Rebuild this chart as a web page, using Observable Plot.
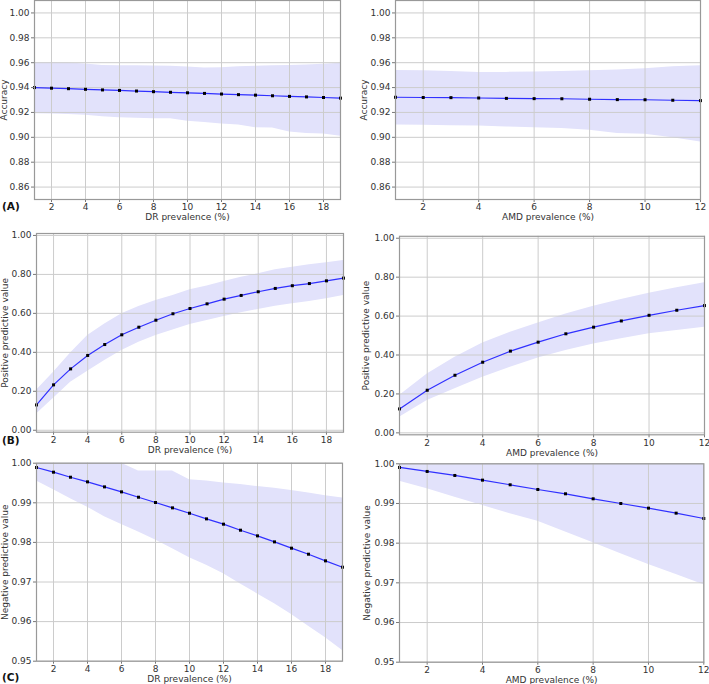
<!DOCTYPE html>
<html><head><meta charset="utf-8">
<script src="https://cdn.jsdelivr.net/npm/d3@7"></script>
<script src="https://cdn.jsdelivr.net/npm/@observablehq/plot@0.6"></script>
<style>
body{margin:0;background:#fff;}
#fig{position:relative;width:709px;height:684px;overflow:hidden;font-family:"DejaVu Sans",sans-serif;}
#fig svg{position:absolute;overflow:visible;}
.letter{position:absolute;font-family:"DejaVu Sans",sans-serif;font-weight:bold;font-size:10.5px;line-height:1;color:#111;}
</style></head><body><div id="fig"></div>
<script>
// ---- data ----
const drX = [1,2,3,4,5,6,7,8,9,10,11,12,13,14,15,16,17,18,19];
const amdX = [1,2,3,4,5,6,7,8,9,10,11,12];

const drAcc   = [0.9400,0.9395,0.9391,0.9386,0.9381,0.9377,0.9372,0.9367,0.9362,0.9358,0.9353,0.9348,0.9343,0.9339,0.9334,0.9329,0.9325,0.9320,0.9315];
const drAccHi = [0.9600,0.9600,0.9598,0.9590,0.9577,0.9576,0.9575,0.9573,0.9571,0.9565,0.9558,0.9560,0.9568,0.9572,0.9575,0.9578,0.9582,0.9588,0.9595];
const drAccLo = [0.9189,0.9187,0.9183,0.9178,0.9165,0.9157,0.9153,0.9150,0.9150,0.9130,0.9120,0.9107,0.9100,0.9077,0.9075,0.9043,0.9030,0.9027,0.9008];

const amdAcc   = [0.9322,0.9320,0.9319,0.9316,0.9313,0.9311,0.9310,0.9306,0.9303,0.9302,0.9298,0.9295];
const amdAccHi = [0.9537,0.9535,0.9530,0.9522,0.9522,0.9525,0.9530,0.9535,0.9542,0.9552,0.9568,0.9575];
const amdAccLo = [0.9099,0.9096,0.9093,0.9090,0.9083,0.9077,0.9070,0.9056,0.9030,0.9024,0.8997,0.8963];

const drPpv   = [0.130,0.233,0.315,0.384,0.440,0.490,0.529,0.565,0.598,0.625,0.649,0.673,0.692,0.711,0.728,0.742,0.753,0.767,0.781];
const drPpvHi = [0.205,0.298,0.397,0.486,0.546,0.598,0.635,0.666,0.692,0.721,0.740,0.764,0.786,0.803,0.824,0.837,0.849,0.860,0.872];
const drPpvLo = [0.084,0.164,0.247,0.303,0.358,0.409,0.452,0.486,0.515,0.543,0.563,0.584,0.603,0.620,0.637,0.649,0.661,0.675,0.692];

const amdPpv   = [0.123,0.219,0.296,0.363,0.420,0.466,0.509,0.543,0.575,0.604,0.630,0.654];
const amdPpvHi = [0.192,0.303,0.389,0.462,0.517,0.565,0.611,0.651,0.685,0.717,0.745,0.771];
const amdPpvLo = [0.080,0.166,0.226,0.286,0.337,0.385,0.423,0.457,0.483,0.509,0.526,0.543];

const drNpv   = [0.99891,0.99773,0.99646,0.99529,0.99402,0.99276,0.99141,0.99007,0.98872,0.98737,0.98594,0.98460,0.98308,0.98165,0.98013,0.97854,0.97702,0.97534,0.97374];
const drNpvHi = [1.0000,1.0000,1.0000,1.0000,1.0000,1.0000,0.9980,0.9980,0.9980,0.9958,0.9955,0.9950,0.9946,0.9941,0.9937,0.9931,0.9925,0.9918,0.9912];
const drNpvLo = [0.9955,0.9933,0.9910,0.9889,0.9865,0.9845,0.9826,0.9806,0.9784,0.9761,0.9742,0.9721,0.9695,0.9670,0.9645,0.9618,0.9588,0.9559,0.9527];

const amdNpv   = [0.99908,0.99807,0.99706,0.99588,0.99471,0.99353,0.99244,0.99118,0.99000,0.98882,0.98756,0.98622];
const amdNpvHi = [1.0,1.0,1.0,1.0,1.0,1.0,1.0,1.0,1.0,1.0,1.0,1.0];
const amdNpvLo = [0.99563,0.9937,0.9916,0.9895,0.9874,0.9855,0.9828,0.9801,0.9773,0.9746,0.9721,0.9695];

const drTicks = [2,4,6,8,10,12,14,16,18];
const amdTicks = [2,4,6,8,10,12];
const accTicks = [0.86,0.88,0.90,0.92,0.94,0.96,0.98,1.00];
const ppvTicks = [0.0,0.2,0.4,0.6,0.8,1.0];
const npvTicks = [0.95,0.96,0.97,0.98,0.99,1.00];

const xLabelDR = "DR prevalence (%)";
const xLabelAMD = "AMD prevalence (%)";
const yLabels = ["Accuracy","Positive predictive value","Negative predictive value"];
const panelLetters = ["(A)","(B)","(C)"];

// ---- layout ----
const fig = document.getElementById("fig");
function panel(p){
  const rows = p.x.map((x,i)=>({x, y:p.y[i], lo:p.lo[i], hi:p.hi[i]}));
  const ml = p.frame[0]-p.cell[0], mt = p.frame[1]-p.cell[1], mr = p.cell[2]-p.frame[2], mb = p.cell[3]-p.frame[3];
  const svg = Plot.plot({
    width: p.cell[2]-p.cell[0], height: p.cell[3]-p.cell[1],
    marginLeft: ml, marginTop: mt, marginRight: mr, marginBottom: mb,
    style:{fontFamily:"DejaVu Sans", fontSize:"9px", color:"#333", background:"transparent", overflow:"visible"},
    x:{domain:p.xDomain}, y:{domain:p.yDomain},
    marks:[
      Plot.areaY(rows,{x:"x",y1:"lo",y2:"hi",fill:"#e2e2fb"}),
      Plot.gridX(p.xTicks,{stroke:"#cccccc",strokeOpacity:1}),
      Plot.gridY(p.yTicks,{stroke:"#cccccc",strokeOpacity:1}),
      Plot.line(rows,{x:"x",y:"y",stroke:"#3030ff",strokeWidth:1.2}),
      Plot.dot(rows,{x:"x",y:"y",symbol:"square",r:1.7,fill:"#000"}),
      Plot.axisX(p.xTicks,{tickSize:3,tickPadding:1.5,label:null,stroke:"#777",fill:"#333"}),
      Plot.axisY(p.yTicks,{tickSize:3,tickPadding:2,tickFormat:d3.format(".2f"),label:null,stroke:"#777",fill:"#333"}),
      Plot.frame({stroke:"#999",strokeWidth:1.2}),
      Plot.text([p.xLabel],{frameAnchor:"bottom",lineAnchor:"middle",textAnchor:"middle",dy:18,text:d=>d,fontSize:9,fill:"#333"}),
      Plot.text([p.yLabel],{frameAnchor:"left",lineAnchor:"middle",textAnchor:"middle",dx:p.yDx,rotate:-90,text:d=>d,fontSize:9,fill:"#333"})
    ]
  });
  svg.style.left = p.cell[0]+"px"; svg.style.top = p.cell[1]+"px";
  fig.appendChild(svg);
}

panel({x:drX,y:drAcc,lo:drAccLo,hi:drAccHi,cell:[0,-5,355,226],frame:[34,0,340,199],xDomain:[1,19],yDomain:[0.85,1.01],xTicks:drTicks,yTicks:accTicks,xLabel:xLabelDR,yLabel:yLabels[0],yDx:-30});
panel({x:amdX,y:amdAcc,lo:amdAccLo,hi:amdAccHi,cell:[355,-5,709,226],frame:[395,0,700,199],xDomain:[1,12],yDomain:[0.85,1.01],xTicks:amdTicks,yTicks:accTicks,xLabel:xLabelAMD,yLabel:yLabels[0],yDx:-31});
panel({x:drX,y:drPpv,lo:drPpvLo,hi:drPpvHi,cell:[0,226,355,456],frame:[36,233,343,431.7],xDomain:[1,19],yDomain:[-0.01,1.01],xTicks:drTicks,yTicks:ppvTicks,xLabel:xLabelDR,yLabel:yLabels[1],yDx:-31});
panel({x:amdX,y:amdPpv,lo:amdPpvLo,hi:amdPpvHi,cell:[355,226,709,456],frame:[399,235.8,704,434.3],xDomain:[1,12],yDomain:[-0.01,1.01],xTicks:amdTicks,yTicks:ppvTicks,xLabel:xLabelAMD,yLabel:yLabels[1],yDx:-33});
panel({x:drX,y:drNpv,lo:drNpvLo,hi:drNpvHi,cell:[0,456,355,684],frame:[36,462.7,342,660.7],xDomain:[1,19],yDomain:[0.95,1.0],xTicks:drTicks,yTicks:npvTicks,xLabel:xLabelDR,yLabel:yLabels[2],yDx:-31});
panel({x:amdX,y:amdNpv,lo:amdNpvLo,hi:amdNpvHi,cell:[355,456,709,684],frame:[399,463.3,703.3,661.7],xDomain:[1,12],yDomain:[0.95,1.0],xTicks:amdTicks,yTicks:npvTicks,xLabel:xLabelAMD,yLabel:yLabels[2],yDx:-32});

const letterTops = [200.5,435,672];
panelLetters.forEach((t,i)=>{
  const d = document.createElement("div");
  d.className = "letter"; d.textContent = t;
  d.style.left = "2px"; d.style.top = letterTops[i]+"px";
  fig.appendChild(d);
});
</script></body></html>
